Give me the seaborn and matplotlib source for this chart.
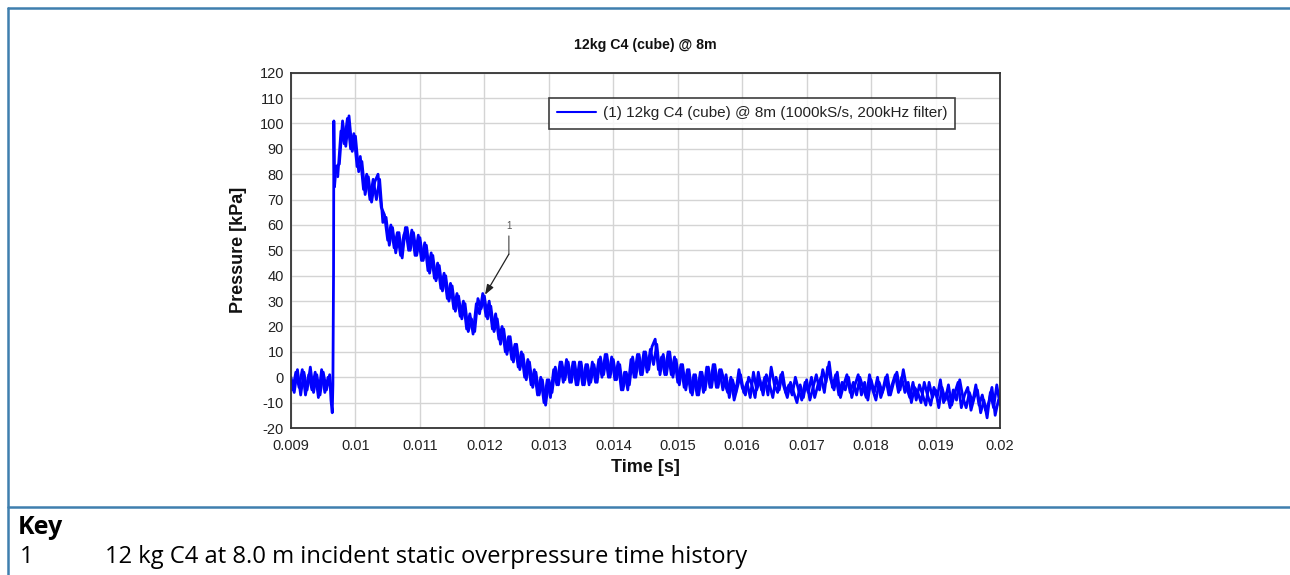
import numpy as np
import pandas as pd
import seaborn as sns
import matplotlib
matplotlib.use("Agg")
import matplotlib.pyplot as plt
from matplotlib.lines import Line2D

# ---------------- data ----------------
title = "12kg C4 (cube) @ 8m"
series_label = "(1) 12kg C4 (cube) @ 8m (1000kS/s, 200kHz filter)"
x_label = "Time [s]"
y_label = "Pressure [kPa]"
x_ticks = [0.009, 0.010, 0.011, 0.012, 0.013, 0.014, 0.015, 0.016, 0.017, 0.018, 0.019, 0.020]
x_tick_labels = ["0.009", "0.01", "0.011", "0.012", "0.013", "0.014", "0.015",
                 "0.016", "0.017", "0.018", "0.019", "0.02"]
y_ticks = [-20, -10, 0, 10, 20, 30, 40, 50, 60, 70, 80, 90, 100, 110, 120]

# samples on the 0.05 ms grid
time_ms = [
    9.00, 9.05, 9.10, 9.15, 9.20, 9.25, 9.30, 9.35, 9.40, 9.45,
    9.50, 9.55, 9.60, 9.62, 9.64, 9.65, 9.66, 9.665, 9.675,
    9.70, 9.75, 9.80, 9.85, 9.90, 9.95, 10.00, 10.05, 10.10, 10.15,
    10.20, 10.25, 10.30, 10.35, 10.40, 10.45, 10.50, 10.55, 10.60, 10.65,
    10.70, 10.75, 10.80, 10.85, 10.90, 10.95, 11.00, 11.05, 11.10, 11.15,
    11.20, 11.25, 11.30, 11.35, 11.40, 11.45, 11.50, 11.55, 11.60, 11.65,
    11.70, 11.75, 11.80, 11.85, 11.90, 11.95, 12.00, 12.05, 12.10, 12.15,
    12.20, 12.25, 12.30, 12.35, 12.40, 12.45, 12.50, 12.55, 12.60, 12.65,
    12.70, 12.75, 12.80, 12.85, 12.90, 12.95, 13.00, 13.05, 13.10, 13.15,
    13.20, 13.25, 13.30, 13.35, 13.40, 13.45, 13.50, 13.55, 13.60, 13.65,
    13.70, 13.75, 13.80, 13.85, 13.90, 13.95, 14.00, 14.05, 14.10, 14.15,
    14.20, 14.25, 14.30, 14.35, 14.40, 14.45, 14.50, 14.55, 14.60, 14.65,
    14.70, 14.75, 14.80, 14.85, 14.90, 14.95, 15.00, 15.05, 15.10, 15.15,
    15.20, 15.25, 15.30, 15.35, 15.40, 15.45, 15.50, 15.55, 15.60, 15.65,
    15.70, 15.75, 15.80, 15.85, 15.90, 15.95, 16.00, 16.05, 16.10, 16.15,
    16.20, 16.25, 16.30, 16.35, 16.40, 16.45, 16.50, 16.55, 16.60, 16.65,
    16.70, 16.75, 16.80, 16.85, 16.90, 16.95, 17.00, 17.05, 17.10, 17.15,
    17.20, 17.25, 17.30, 17.35, 17.40, 17.45, 17.50, 17.55, 17.60, 17.65,
    17.70, 17.75, 17.80, 17.85, 17.90, 17.95, 18.00, 18.05, 18.10, 18.15,
    18.20, 18.25, 18.30, 18.35, 18.40, 18.45, 18.50, 18.55, 18.60, 18.65,
    18.70, 18.75, 18.80, 18.85, 18.90, 18.95, 19.00, 19.05, 19.10, 19.15,
    19.20, 19.25, 19.30, 19.35, 19.40, 19.45, 19.50, 19.55, 19.60, 19.65,
    19.70, 19.75, 19.80, 19.85, 19.90, 19.95, 20.00,
]
pressure_kpa = [
    0, -6, 3, -7, 2, -5, 4, -6, 1, -7,
    2, -5, 1, -9, -14, -3, 41, 101, 75,
    83, 84, 101, 91, 103, 89, 95, 81, 85, 72,
    79, 69, 77, 80, 67, 64, 54, 60, 51, 57,
    48, 56, 59, 50, 57, 48, 55, 46, 52, 41,
    48, 38, 44, 34, 40, 30, 36, 26, 32, 23,
    29, 18, 23, 18, 31, 27, 32, 23, 28, 18,
    23, 13, 19, 9, 16, 6, 13, 3, 9, -1,
    6, -4, 2, -7, -1, -11, -1, -6, 4, -3,
    6, -1, 6, -2, 6, -3, 6, -3, 5, -2,
    5, -2, 8, 1, 9, 0, 7, -1, 5, -5,
    2, -3, 8, 0, 9, 1, 10, 3, 12, 15,
    3, 8, 1, 10, 1, 8, -2, 5, -4, 3,
    -6, 1, -7, 2, -6, 4, -4, 5, -4, 3,
    -5, 1, -8, -1, -6, 3, -4, -7, 0, -3,
    -8, 2, -5, 0, -7, 4, -3, -6, 1, -4,
    -8, -2, -6, -10, -3, -8, -1, -9, -4, 1,
    -5, 3, -2, 6, -4, 1, -7, -2, -5, 0,
    -8, -3, 1, -7, -2, -9, -1, -6, 0, -8,
    -4, 1, -7, -2, 2, -5, 3, -4, -8, -2,
    -9, -3, -7, -11, -2, -8, -5, -12, -4, -9,
    -3, -11, -6, -2, -12, -7, -4, -13, -8, -5,
    -14, -9, -16, -6, -12, -3, -11,
]

# interleaved samples between the ones above (second pass of the noisy trace)
time_half_ms = [
    9.025, 9.075, 9.125, 9.175, 9.225, 9.275, 9.325, 9.375, 9.425, 9.475,
    9.525, 9.575,
    9.725, 9.775, 9.825, 9.875, 9.925, 9.975, 10.025, 10.075, 10.125, 10.175,
    10.225, 10.275, 10.325, 10.375, 10.425, 10.475, 10.525, 10.575, 10.625, 10.675,
    10.725, 10.775, 10.825, 10.875, 10.925, 10.975, 11.025, 11.075, 11.125, 11.175,
    11.225, 11.275, 11.325, 11.375, 11.425, 11.475, 11.525, 11.575, 11.625, 11.675,
    11.725, 11.775, 11.825, 11.875, 11.925, 11.975, 12.025, 12.075, 12.125, 12.175,
    12.225, 12.275, 12.325, 12.375, 12.425, 12.475, 12.525, 12.575, 12.625, 12.675,
    12.725, 12.775, 12.825, 12.875, 12.925, 12.975, 13.025, 13.075, 13.125, 13.175,
    13.225, 13.275, 13.325, 13.375, 13.425, 13.475, 13.525, 13.575, 13.625, 13.675,
    13.725, 13.775, 13.825, 13.875, 13.925, 13.975, 14.025, 14.075, 14.125, 14.175,
    14.225, 14.275, 14.325, 14.375, 14.425, 14.475, 14.525, 14.575, 14.625, 14.675,
    14.725, 14.775, 14.825, 14.875, 14.925, 14.975, 15.025, 15.075, 15.125, 15.175,
    15.225, 15.275, 15.325, 15.375, 15.425, 15.475, 15.525, 15.575, 15.625, 15.675,
    15.725, 15.775, 15.825, 15.875, 15.925, 15.975, 16.025, 16.075, 16.125, 16.175,
    16.225, 16.275, 16.325, 16.375, 16.425, 16.475, 16.525, 16.575, 16.625, 16.675,
    16.725, 16.775, 16.825, 16.875, 16.925, 16.975, 17.025, 17.075, 17.125, 17.175,
    17.225, 17.275, 17.325, 17.375, 17.425, 17.475, 17.525, 17.575, 17.625, 17.675,
    17.725, 17.775, 17.825, 17.875, 17.925, 17.975, 18.025, 18.075, 18.125, 18.175,
    18.225, 18.275, 18.325, 18.375, 18.425, 18.475, 18.525, 18.575, 18.625, 18.675,
    18.725, 18.775, 18.825, 18.875, 18.925, 18.975, 19.025, 19.075, 19.125, 19.175,
    19.225, 19.275, 19.325, 19.375, 19.425, 19.475, 19.525, 19.575, 19.625, 19.675,
    19.725, 19.775, 19.825, 19.875, 19.925, 19.975,
]
pressure_half_kpa = [
    -5, 2, -4, 3, -7, 1, -5, 2, -8, 3,
    -6, 0,
    79, 97, 92, 102, 90, 96, 83, 87, 74, 80,
    70, 78, 70, 78, 61, 63, 52, 59, 49, 57,
    47, 59, 50, 58, 48, 56, 46, 53, 42, 49,
    39, 45, 35, 41, 31, 37, 27, 33, 24, 30,
    19, 25, 17, 29, 25, 33, 24, 30, 19, 25,
    15, 20, 10, 16, 7, 13, 4, 10, 0, 7,
    -3, 3, -7, 0, -10, -1, -8, 3, -3, 6,
    -2, 7, -2, 6, -3, 6, -3, 5, -3, 6,
    -2, 7, 0, 9, 0, 8, -1, 6, -5, 2,
    -5, 7, 0, 9, 1, 10, 2, 11, 5, 13,
    1, 9, 1, 10, 0, 7, -3, 5, -5, 3,
    -7, 1, -7, 2, -5, 4, -4, 5, -4, 3,
    -2, -6, 0, -9, -4, 1, -6, -2, -8, 2,
    -5, -1, -7, 1, -3, -8, 0, -5, 2, -6,
    -3, -7, 0, -5, -9, -2, -6, 0, -8, -3,
    0, -6, 4, -1, -5, 2, -8, -3, 1, -6,
    -2, -7, 0, -4, -8, 1, -5, -9, -2, -6,
    0, -7, -3, 1, -6, 0, -6, -2, -10, -4,
    -6, -10, -2, -7, -11, -4, -8, -1, -10, -6,
    -12, -5, -9, -1, -8, -12, -6, -10, -3, -11,
    -7, -13, -10, -4, -15, -9,
]

annotation_text = "1"
key_title = "Key"
key_number = "1"
key_text = "12 kg C4 at 8.0 m incident static overpressure time history"

half_t = np.array(time_half_ms)
df = pd.concat([
    pd.DataFrame({"time_s": np.array(time_ms) / 1000.0, "pressure": pressure_kpa,
                  "pass": "a"}),
    pd.DataFrame({"time_s": half_t / 1000.0, "pressure": pressure_half_kpa,
                  "pass": np.where(half_t < 9.65, "b_pre", "b_post")}),
], ignore_index=True)

# ---------------- style ----------------
sns.set_theme(style="white")
plt.rcParams["font.family"] = ["Liberation Sans", "DejaVu Sans"]
plt.rcParams["axes.unicode_minus"] = False

fig = plt.figure(figsize=(12.9, 5.75), dpi=100)
ax = fig.add_axes([291 / 1290, 1 - 428 / 575, 709 / 1290, 355.3 / 575])

blue = "#0000ff"
sns.lineplot(data=df, x="time_s", y="pressure", units="pass", estimator=None,
             ax=ax, color=blue, linewidth=2.0, sort=False, legend=False)

ax.set_xlim(0.009, 0.020)
ax.set_ylim(-20, 120)
ax.set_xticks(x_ticks)
ax.set_xticklabels(x_tick_labels)
ax.set_yticks(y_ticks)
ax.tick_params(axis="both", labelsize=10.5, colors="#222222", length=0)
ax.tick_params(axis="y", pad=5)
ax.tick_params(axis="x", pad=8)
ax.grid(True, color="#d4d4d4", linewidth=1.0)
ax.set_axisbelow(True)
for s in ax.spines.values():
    s.set_color("#333333")
    s.set_linewidth(1.3)

ax.set_title(title, fontsize=10.2, fontweight="bold", color="#111111", pad=17)
ax.set_xlabel(x_label, fontsize=13, fontweight="bold", color="#111111", labelpad=4)
ax.set_ylabel(y_label, fontsize=13, fontweight="bold", color="#111111", labelpad=9)

leg = ax.legend(handles=[Line2D([], [], color=blue, lw=1.5)], labels=[series_label],
                loc="upper left", bbox_to_anchor=(0.364, 0.929), borderaxespad=0,
                fancybox=False, shadow=False, frameon=True, fontsize=11,
                handlelength=2.5, borderpad=0.55, handletextpad=0.45)
leg.get_frame().set_edgecolor("#111111")
leg.get_frame().set_linewidth(1.2)
for t in leg.get_texts():
    t.set_color("#222222")

# annotation "1"
ax.annotate(annotation_text, xy=(0.01238, 48.5), xytext=(0.01238, 57.5),
            ha="center", va="bottom", fontsize=7, color="#555555",
            arrowprops=dict(arrowstyle="-", color="#555555", lw=0.9,
                            shrinkA=1, shrinkB=0))
ax.annotate("", xy=(0.01201, 32.5), xytext=(0.01238, 48.5),
            arrowprops=dict(arrowstyle="-|>,head_length=0.5,head_width=0.18",
                            color="#222222", lw=0.9, shrinkA=0, shrinkB=0))

# frame lines of the figure
frame_color = "#3f7fae"
fig.add_artist(Line2D([8 / 1290, 1.0], [1 - 8 / 575, 1 - 8 / 575], color=frame_color, lw=1.8))
fig.add_artist(Line2D([8 / 1290, 8 / 1290], [0, 1 - 8 / 575], color=frame_color, lw=1.8))
fig.add_artist(Line2D([8 / 1290, 1.0], [1 - 507 / 575, 1 - 507 / 575], color=frame_color, lw=1.8))

# key
key_font = ["Open Sans", "DejaVu Sans"]
fig.text(18 / 1290, 1 - 528 / 575, key_title, fontsize=18, fontweight="bold",
         family=key_font, va="center", ha="left", color="#000000")
fig.text(20 / 1290, 1 - 557 / 575, key_number, fontsize=17.1,
         family=key_font, va="center", ha="left", color="#000000")
fig.text(105 / 1290, 1 - 557 / 575, key_text, fontsize=17.1,
         family=key_font, va="center", ha="left", color="#000000")

fig.savefig("out.png", dpi=100)
